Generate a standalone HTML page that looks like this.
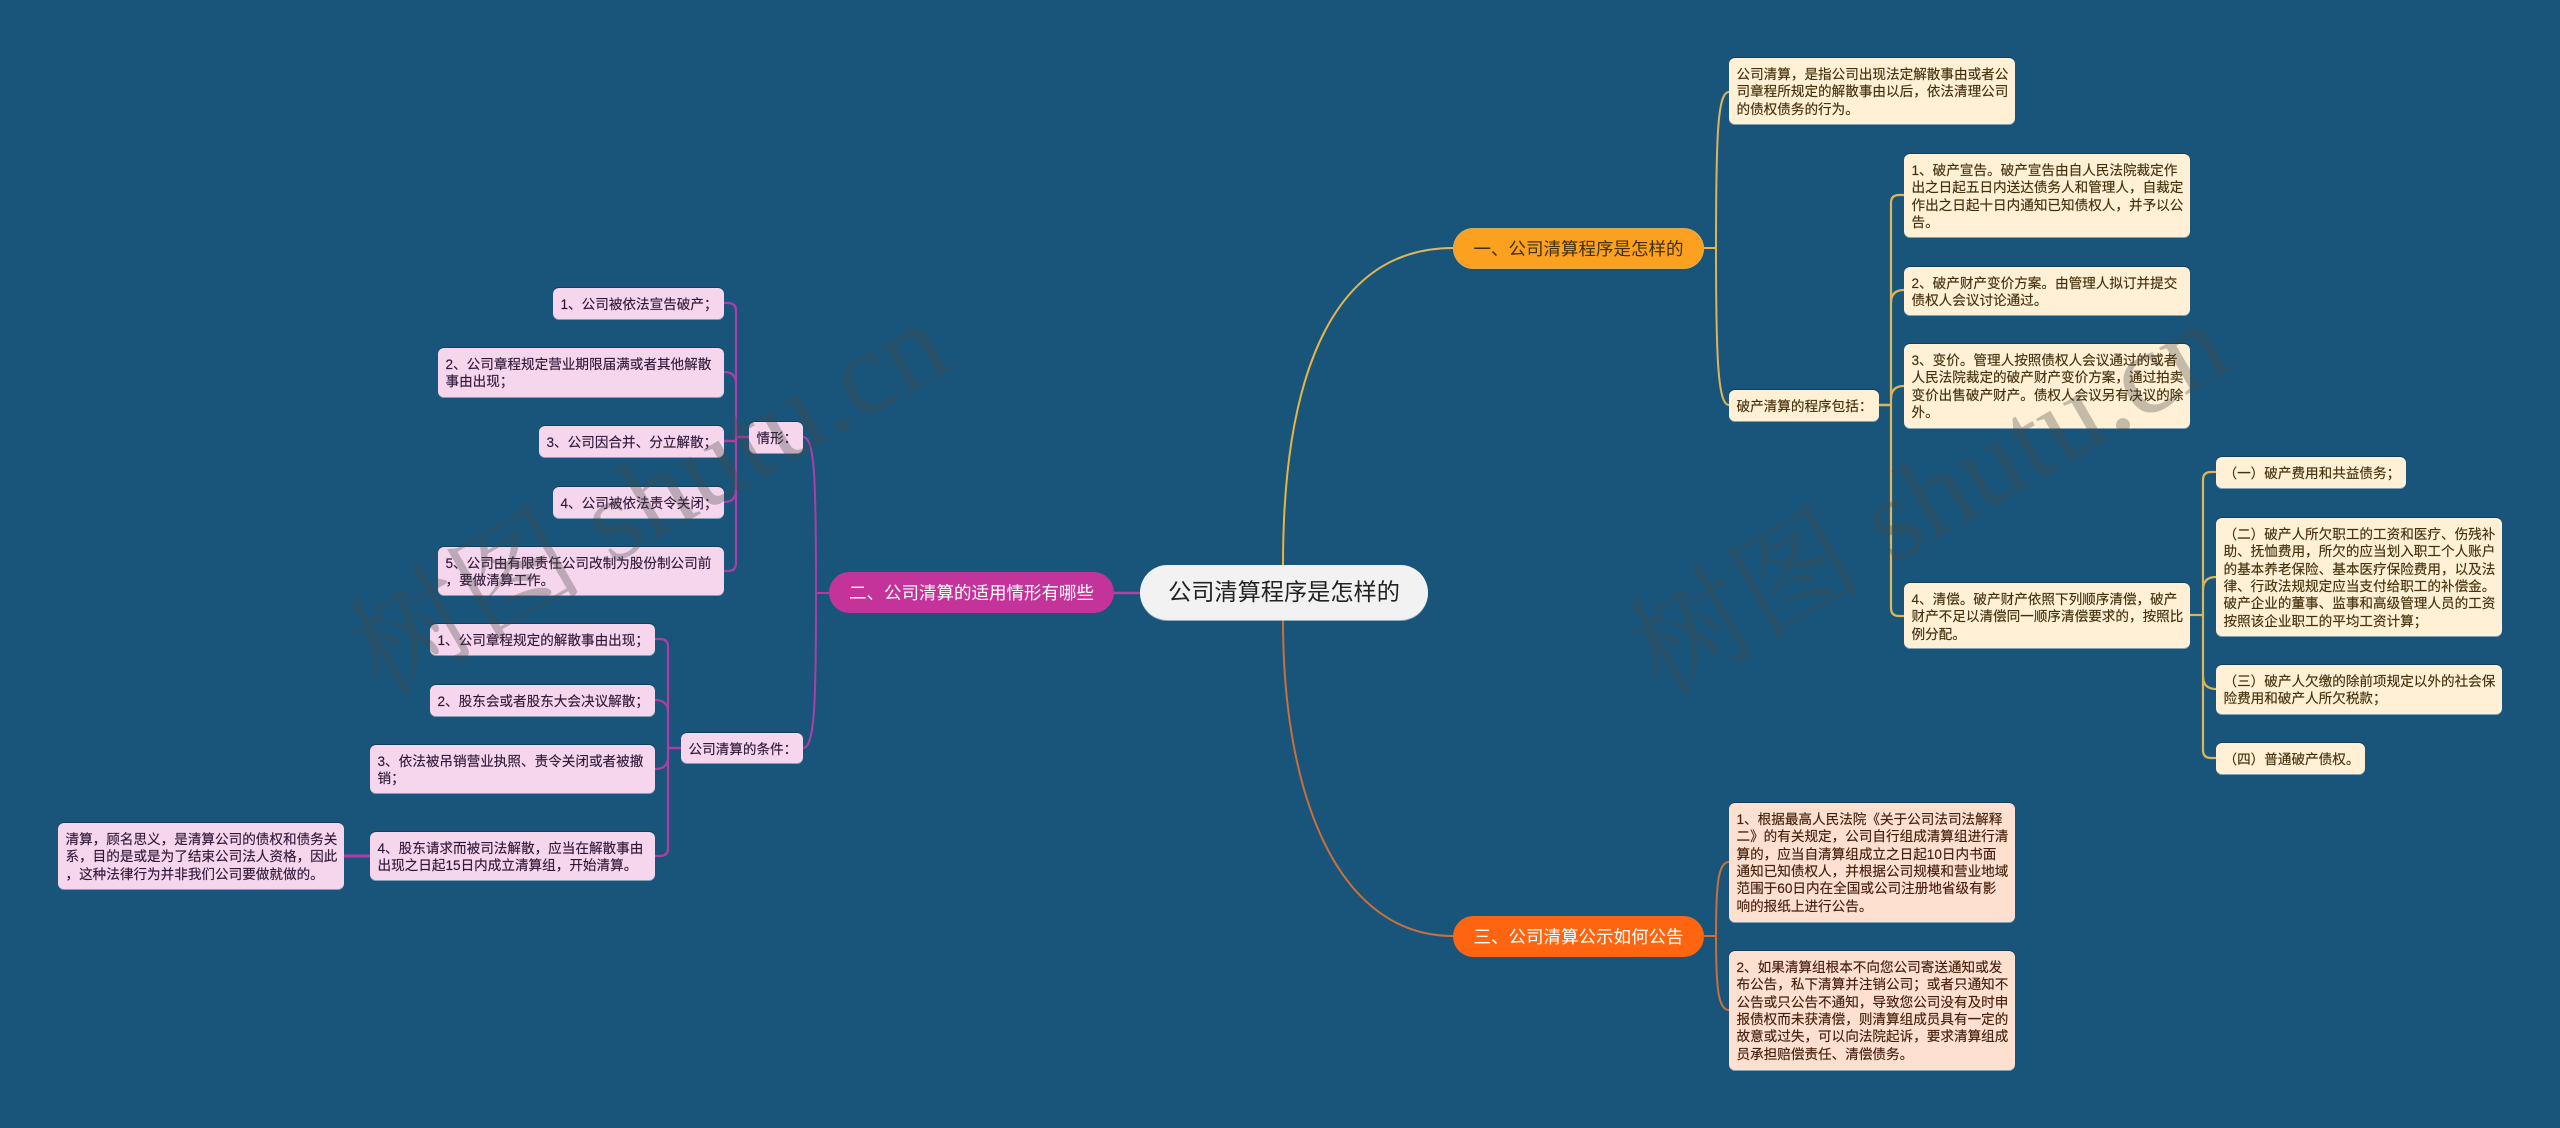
<!DOCTYPE html>
<html lang="zh">
<head>
<meta charset="utf-8">
<title>公司清算程序是怎样的</title>
<style>
html,body{margin:0;padding:0}
body{width:2560px;height:1128px;background:#19547a;position:relative;overflow:hidden;font-family:"Liberation Sans","Noto Sans CJK SC",sans-serif}
svg{position:absolute;left:0;top:0}
.b{position:absolute;box-sizing:border-box;padding:8px 0 0 7.5px;border-radius:6px;font-size:13.6px;line-height:17.33px;white-space:nowrap;box-shadow:0 1px 0 rgba(255,255,255,.45),0 -1px 0 rgba(0,0,0,.25);-webkit-text-stroke:.15px currentColor}
.y{background:#fff0d6;color:#45300c}
.p{background:#f5d6ec;color:#30193a}
.o{background:#fde0d0;color:#47200c}
.pill{position:absolute;box-sizing:border-box;border-radius:21px;font-size:17.5px;line-height:43px;height:41px;text-align:center;white-space:nowrap}
.wm{position:absolute;font-family:"Liberation Serif","Noto Serif CJK SC",serif;font-size:118px;line-height:120px;color:rgba(70,70,70,.32);white-space:nowrap;transform:rotate(-30deg);transform-origin:0 50%}
</style>
</head>
<body>
<svg width="2560" height="1128" viewBox="0 0 2560 1128" fill="none" stroke-width="2">
<defs>
<linearGradient id="g1" x1="0" y1="1" x2="1" y2="0"><stop offset="0" stop-color="#e8b53a"/><stop offset="1" stop-color="#dcb760"/></linearGradient>
</defs>
<g stroke="url(#g1)">
<path d="M1283 565C1283 360 1340 248 1453 248"/>
</g>
<path d="M1283 620C1283 800 1340 936 1453 936" stroke="#c8703c"/>
<path d="M1140 593H1114" stroke="#a946a8" stroke-width="2.5"/>
<g stroke="#dcb55a">
<path d="M1704 248H1716"/>
<path d="M1716 248C1716 130 1718 92 1729 92"/>
<path d="M1716 248C1716 360 1718 405 1729 405"/>
<path d="M1879 405H1891" stroke-width="2.5"/>
<path d="M1904 195H1899Q1891 195 1891 203V608Q1891 616 1899 616H1904" stroke-width="2.2"/>
<path d="M1904 290Q1891 290 1891 303" stroke-width="2.2"/>
<path d="M1904 386Q1891 386 1891 399" stroke-width="2.2"/>
<path d="M2190 615H2203" stroke-width="2.2"/>
<path d="M2216 472H2211Q2203 472 2203 480V750Q2203 758 2211 758H2216" stroke-width="2.2"/>
<path d="M2216 577Q2203 577 2203 590" stroke-width="2.2"/>
<path d="M2216 689Q2203 689 2203 676" stroke-width="2.2"/>
</g>
<g stroke="#c8703c">
<path d="M1704 936H1716"/>
<path d="M1716 936C1716 885 1718 862 1729 862"/>
<path d="M1716 936C1716 987 1718 1010 1729 1010"/>
</g>
<g stroke="#ac3fa6">
<path d="M829 593H816"/>
<path d="M816 593C816 480 815 437 803 437"/>
<path d="M816 593C816 700 815 748 803 748"/>
<path d="M749 437H736" stroke-width="2.5"/>
<path d="M724 441H736" stroke-width="2.5"/>
<path d="M724 303H728Q736 303 736 311V563Q736 571 728 571H724" stroke-width="2.2"/>
<path d="M724 372Q736 372 736 384" stroke-width="2.2"/>
<path d="M724 502Q736 502 736 490" stroke-width="2.2"/>
<path d="M681 748H668" stroke-width="2.5"/>
<path d="M655 639H660Q668 639 668 647V848Q668 856 660 856H655" stroke-width="2.2"/>
<path d="M655 700Q668 700 668 712" stroke-width="2.2"/>
<path d="M655 769Q668 769 668 757" stroke-width="2.2"/>
<path d="M370 856H344" stroke-width="3"/>
</g>
</svg>

<div style="position:absolute;left:1140px;top:565px;width:288px;height:55px;border-radius:28px;background:#f2f2f2;color:#222;font-size:23.2px;line-height:55px;text-align:center;white-space:nowrap;box-shadow:0 1px 0 rgba(255,255,255,.5)">公司清算程序是怎样的</div>

<div class="pill" style="left:1453px;top:228px;width:251px;background:#fba01f;color:#40300f;box-shadow:inset 0 0 0 1px #d8ac55">一、公司清算程序是怎样的</div>
<div class="pill" style="left:829px;top:572px;width:285px;background:#c4339a;color:#fff">二、公司清算的适用情形有哪些</div>
<div class="pill" style="left:1453px;top:916px;width:251px;background:#ff6510;color:#fff">三、公司清算公示如何公告</div>

<div class="b y" style="left:1729px;top:58px;width:286px;height:66px">公司清算，是指公司出现法定解散事由或者公<br>司章程所规定的解散事由以后，依法清理公司<br>的债权债务的行为。</div>
<div class="b y" style="left:1729px;top:390px;width:150px;height:31px">破产清算的程序包括：</div>
<div class="b y" style="left:1904px;top:154px;width:286px;height:83px">1、破产宣告。破产宣告由自人民法院裁定作<br>出之日起五日内送达债务人和管理人，自裁定<br>作出之日起十日内通知已知债权人，并予以公<br>告。</div>
<div class="b y" style="left:1904px;top:267px;width:286px;height:48px">2、破产财产变价方案。由管理人拟订并提交<br>债权人会议讨论通过。</div>
<div class="b y" style="left:1904px;top:344px;width:286px;height:84px">3、变价。管理人按照债权人会议通过的或者<br>人民法院裁定的破产财产变价方案，通过拍卖<br>变价出售破产财产。债权人会议另有决议的除<br>外。</div>
<div class="b y" style="left:1904px;top:583px;width:286px;height:65px">4、清偿。破产财产依照下列顺序清偿，破产<br>财产不足以清偿同一顺序清偿要求的，按照比<br>例分配。</div>
<div class="b y" style="left:2216px;top:457px;width:190px;height:31px">（一）破产费用和共益债务；</div>
<div class="b y" style="left:2216px;top:518px;width:286px;height:118px">（二）破产人所欠职工的工资和医疗、伤残补<br>助、抚恤费用，所欠的应当划入职工个人账户<br>的基本养老保险、基本医疗保险费用，以及法<br>律、行政法规规定应当支付给职工的补偿金。<br>破产企业的董事、监事和高级管理人员的工资<br>按照该企业职工的平均工资计算；</div>
<div class="b y" style="left:2216px;top:665px;width:286px;height:49px">（三）破产人欠缴的除前项规定以外的社会保<br>险费用和破产人所欠税款；</div>
<div class="b y" style="left:2216px;top:743px;width:149px;height:31px">（四）普通破产债权。</div>

<div class="b o" style="left:1729px;top:803px;width:286px;height:119px">1、根据最高人民法院《关于公司法司法解释<br>二》的有关规定，公司自行组成清算组进行清<br>算的，应当自清算组成立之日起10日内书面<br>通知已知债权人，并根据公司规模和营业地域<br>范围于60日内在全国或公司注册地省级有影<br>响的报纸上进行公告。</div>
<div class="b o" style="left:1729px;top:951px;width:286px;height:119px">2、如果清算组根本不向您公司寄送通知或发<br>布公告，私下清算并注销公司；或者只通知不<br>公告或只公告不通知，导致您公司没有及时申<br>报债权而未获清偿，则清算组成员具有一定的<br>故意或过失，可以向法院起诉，要求清算组成<br>员承担赔偿责任、清偿债务。</div>

<div class="b p" style="left:749px;top:422px;width:54px;height:31px">情形：</div>
<div class="b p" style="left:553px;top:288px;width:171px;height:31px">1、公司被依法宣告破产；</div>
<div class="b p" style="left:438px;top:348px;width:286px;height:49px">2、公司章程规定营业期限届满或者其他解散<br>事由出现；</div>
<div class="b p" style="left:539px;top:426px;width:185px;height:31px">3、公司因合并、分立解散；</div>
<div class="b p" style="left:553px;top:487px;width:171px;height:31px">4、公司被依法责令关闭；</div>
<div class="b p" style="left:438px;top:547px;width:286px;height:48px">5、公司由有限责任公司改制为股份制公司前<br>，要做清算工作。</div>
<div class="b p" style="left:681px;top:733px;width:122px;height:30px">公司清算的条件：</div>
<div class="b p" style="left:430px;top:624px;width:225px;height:31px">1、公司章程规定的解散事由出现；</div>
<div class="b p" style="left:430px;top:685px;width:225px;height:31px">2、股东会或者股东大会决议解散；</div>
<div class="b p" style="left:370px;top:745px;width:285px;height:48px">3、依法被吊销营业执照、责令关闭或者被撤<br>销；</div>
<div class="b p" style="left:370px;top:832px;width:285px;height:48px">4、股东请求而被司法解散，应当在解散事由<br>出现之日起15日内成立清算组，开始清算。</div>
<div class="b p" style="left:58px;top:823px;width:286px;height:66px">清算，顾名思义，是清算公司的债权和债务关<br>系，目的是或是为了结束公司法人资格，因此<br>，这种法律行为并非我们公司要做就做的。</div>

<div class="wm" style="left:362px;top:604px">树图 shutu.cn</div>
<div class="wm" style="left:1642px;top:604px">树图 shutu.cn</div>
</body>
</html>
